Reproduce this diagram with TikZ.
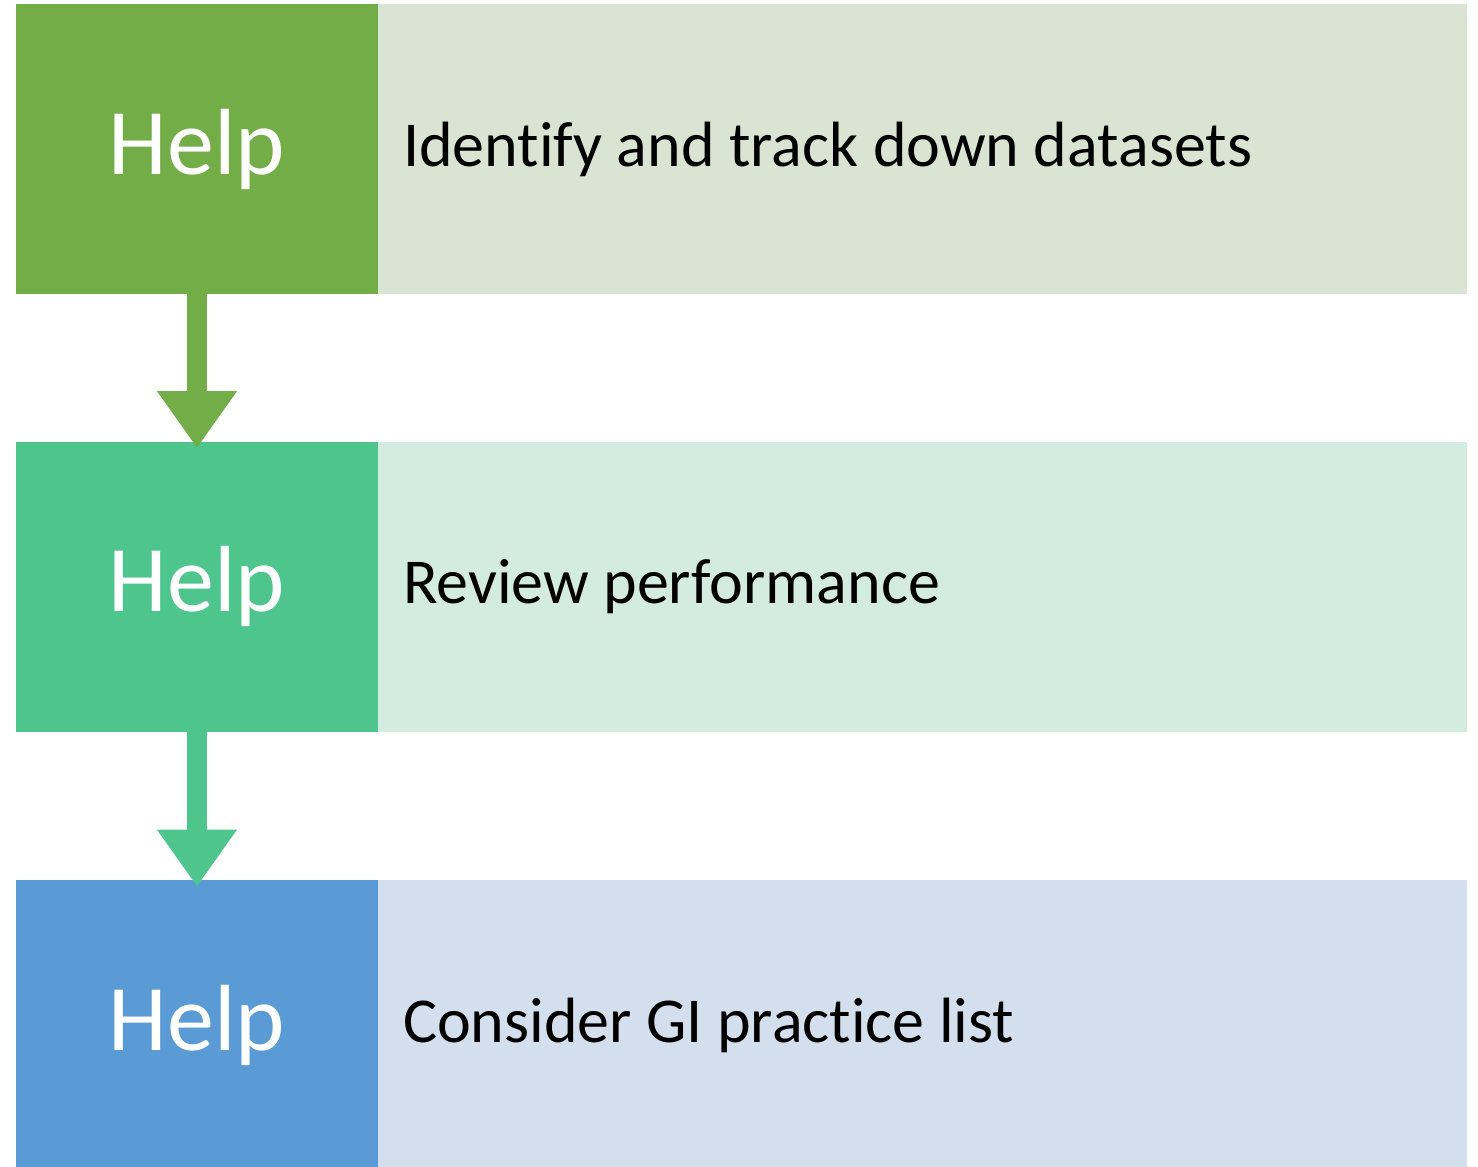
\documentclass[tikz,border=0pt]{standalone}
\usepackage{fontspec}
\setmainfont{Carlito}[Ligatures=NoCommon]
\usetikzlibrary{positioning,arrows.meta}
\definecolor{cGreen}{RGB}{114,173,72}
\definecolor{cGreenL}{RGB}{217,228,211}
\definecolor{cTeal}{RGB}{78,197,140}
\definecolor{cTealL}{RGB}{212,235,226}
\definecolor{cBlue}{RGB}{91,155,213}
\definecolor{cBlueL}{RGB}{211,223,237}

\begin{document}
\begin{tikzpicture}[
   x=0.5pt,y=-0.5pt,
   tag/.style={rectangle,minimum width=181pt,minimum height=145pt,inner sep=0pt,
     text=white,font=\fontsize{47}{50}\selectfont},
   task/.style={rectangle,minimum width=544.5pt,minimum height=145pt,inner sep=0pt,
     text width=519.5pt,align=flush left,font=\fontsize{32}{36}\selectfont},
   flow/.style={line width=10pt,-{Triangle[width=38pt,length=28.5pt]},shorten >=-3.5pt}]
  \useasboundingbox (0,0) rectangle (1478,1167);
  % step boxes
  \node[tag,fill=cGreen] (h1) at (197,149) {Help};
  \node[task,fill=cGreenL] (t1) at (922.5,149) {Identify and track down datasets};
  \node[tag,fill=cTeal] (h2) at (197,586.5) {Help};
  \node[task,fill=cTealL] (t2) at (922.5,586.5) {Review performance};
  \node[tag,fill=cBlue] (h3) at (197,1025) {Help};
  \node[task,fill=cBlueL] (t3) at (922.5,1025) {Consider GI practice list};
  % arrows between steps
  \draw[flow,cGreen] (h1.south) -- (h2.north);
  \draw[flow,cTeal] (h2.south) -- (h3.north);
\end{tikzpicture}
\end{document}
